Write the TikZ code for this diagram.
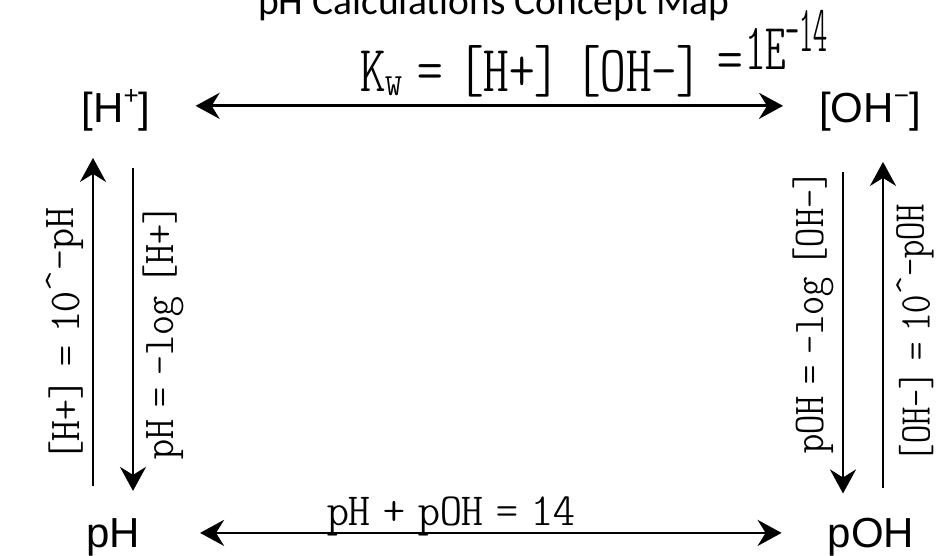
\documentclass[tikz,border=0pt]{standalone}
\usepackage{fontspec}
\usepackage{graphicx}
\setmainfont{Liberation Sans}
\newfontfamily\titlefont{Carlito}
\newfontfamily\hand[WordSpace=0.6]{lmmonoltcond10-regular.otf}
\newcommand\hsx[2]{\scalebox{#1}[1]{#2}}
\usetikzlibrary{arrows.meta}
\begin{document}
\begin{tikzpicture}[x=1pt,y=-1pt,
  corner/.style={inner sep=0pt, anchor=base, font=\fontsize{42}{42}\selectfont},
  hw/.style={inner sep=0pt, font=\hand\fontsize{#1}{#1}\selectfont},
  tip/.tip={Stealth[length=24pt,width=26pt,inset=8pt]},
  conn/.style={line width=2.8pt, -tip},
  biconn/.style={line width=2.8pt, tip-tip},
]
\useasboundingbox (0,0) rectangle (940,556);
\fill[white] (0,0) rectangle (940,556);

\node[anchor=base, inner sep=0pt, font=\titlefont\fontsize{39.5}{40}\selectfont] (title) at (494,15) {pH Calculations Concept Map};

\node[corner] (h) at (116,123) {[H\raisebox{18pt}{\fontsize{26}{26}\selectfont +}]};
\node[corner] (oh) at (870,123) {[OH\raisebox{18pt}{\fontsize{26}{26}\selectfont −}]};
\node[corner] (ph) at (113,547) {pH};
\node[corner] (poh) at (871,547) {pOH};

% horizontal connectors
\draw[biconn, shorten <=45pt, shorten >=36pt] ([yshift=5pt]h.east) -- ([yshift=5pt]h.east -| oh.west);
\draw[biconn, shorten <=60pt, shorten >=46pt] ([yshift=4pt]ph.east) -- ([yshift=4pt]ph.east -| poh.west);

% vertical connectors
\draw[conn, shorten <=32pt, shorten >=26pt] ([xshift=-20pt]ph.north) -- ([xshift=-20pt]ph.north |- h.south);
\draw[conn, shorten <=36pt, shorten >=27pt] ([xshift=20pt]ph.north |- h.south) -- ([xshift=20pt]ph.north);
\draw[conn, shorten <=40pt, shorten >=24pt] ([xshift=-28pt]poh.north |- oh.south) -- ([xshift=-28pt]poh.north);
\draw[conn, shorten <=29pt, shorten >=30pt] ([xshift=12pt]poh.north) -- ([xshift=12pt]poh.north |- oh.south);

% handwritten labels
\node[hw=66, anchor=base west] (kw) at (360,92) {\hsx{1.1}{K\raisebox{-4pt}{\fontsize{44}{44}\selectfont w} = [H+] [OH-] \raisebox{11pt}{=}\kern2pt\raisebox{22pt}{\hsx{0.8}{1E}}\raisebox{40pt}{\hsx{0.55}{-14}}}};
\node[hw=46, anchor=base west] (sum) at (327,525) {\hsx{1.35}{pH + pOH = 14}};
\node[hw=44, rotate=90] (l1) at (65,335) {\hsx{1.35}{[H+] = 10\raisebox{6pt}{\textasciicircum-pH}}};
\node[hw=44, rotate=90] (l2) at (163,332) {\hsx{1.29}{pH = -log [H+]}};
\node[hw=44, rotate=90] (r1) at (813,312) {\hsx{1.24}{pOH = -log [OH-]}};
\node[hw=44, rotate=90] (r2) at (915,333) {\hsx{1.18}{[OH-] = 10\raisebox{6pt}{\textasciicircum-pOH}}};
\end{tikzpicture}
\end{document}
